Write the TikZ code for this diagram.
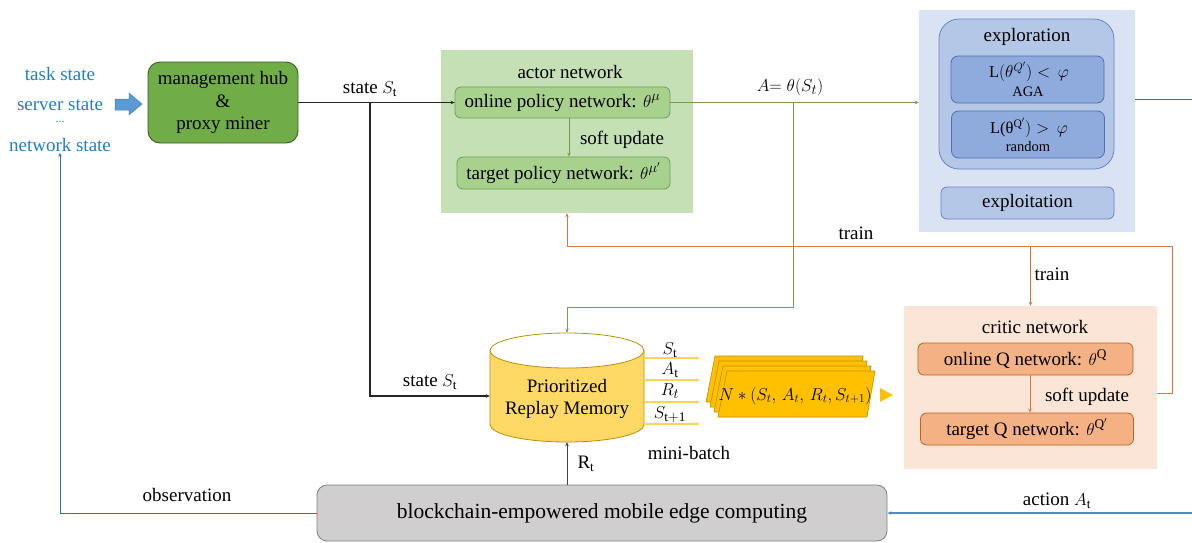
\documentclass[tikz,border=0pt]{standalone}
\usepackage{fontspec}
\setmainfont{Liberation Serif}
\usetikzlibrary{arrows.meta}

\definecolor{statetxt}{RGB}{31,126,205}
\definecolor{hubfill}{RGB}{112,173,71}
\definecolor{hubedge}{RGB}{60,90,40}
\definecolor{actorbg}{RGB}{197,224,180}
\definecolor{actorbox}{RGB}{169,209,142}
\definecolor{actoredge}{RGB}{110,158,79}
\definecolor{greenline}{RGB}{112,160,80}
\definecolor{explbg}{RGB}{218,227,243}
\definecolor{explbox}{RGB}{180,199,231}
\definecolor{expledge}{RGB}{100,135,195}
\definecolor{innerbox}{RGB}{143,170,220}
\definecolor{inneredge}{RGB}{80,112,180}
\definecolor{criticbg}{RGB}{251,229,214}
\definecolor{criticbox}{RGB}{244,177,131}
\definecolor{criticedge}{RGB}{190,100,40}
\definecolor{orangeline}{RGB}{214,120,60}
\definecolor{memfill}{RGB}{255,217,102}
\definecolor{memedge}{RGB}{191,144,0}
\definecolor{yline}{RGB}{255,210,90}
\definecolor{batchfill}{RGB}{255,192,0}
\definecolor{chainfill}{RGB}{208,206,206}
\definecolor{chainedge}{RGB}{128,128,128}
\definecolor{blueline}{RGB}{46,117,182}
\definecolor{arrowblue}{RGB}{91,155,213}

\tikzset{
  txt/.style={font=\rmfamily\fontsize{19}{23}\selectfont, inner sep=1pt},
  smalltxt/.style={font=\rmfamily\fontsize{14.5}{17}\selectfont, inner sep=1pt},
  eqtxt/.style={font=\rmfamily\fontsize{16.5}{20}\selectfont, inner sep=1pt},
  statelbl/.style={txt, text=statetxt},
  netbox/.style={rounded corners=6pt, line width=0.8pt, txt},
  tip/.style={-{Stealth[length=4pt,width=3.5pt]}},
}

\begin{document}
\begin{tikzpicture}[x=1pt, y=-1pt]
\useasboundingbox (0,0) rectangle (1192,542);

% ---------- environment state ----------
\node[statelbl] (task) at (60,74) {task state};
\node[statelbl] (server) at (60,105) {server state};
\node[statelbl, font=\fontsize{12}{13}\selectfont] (dots) at (60,122) {...};
\node[statelbl] (net) at (60,145) {network state};

% block arrow into the hub
\fill[arrowblue, draw=arrowblue!80!black, line width=0.5pt]
  (115,99) -- (129,99) -- (129,93) -- (142,104) -- (129,115) -- (129,110) -- (115,110) -- cycle;

% ---------- management hub ----------
\node[draw=hubedge, fill=hubfill, rounded corners=12pt, line width=0.9pt,
      minimum width=150pt, minimum height=81pt, align=center,
      font=\rmfamily\fontsize{19}{22.5}\selectfont] (hub) at (223,102.5)
      {management hub\\\&\\proxy miner};

% ---------- actor network ----------
\node[fill=actorbg, minimum width=252pt, minimum height=163pt, inner sep=0pt] (actorbg) at (567,131.5) {};
\node[txt] (actorlbl) at (570,72) {actor network};
\node[netbox, draw=actoredge, fill=actorbox, minimum width=215pt, minimum height=31pt] (online) at (562.5,102.5)
  {online policy network: $\theta^{\mu}$};
\node[netbox, draw=actoredge, fill=actorbox, minimum width=213pt, minimum height=32pt] (target) at (563.5,173)
  {target policy network: $\theta^{\mu'}$};
\draw[greenline, line width=1pt, tip] (online.south -| 569,0) -- (target.north -| 569,0);
\node[txt] (softa) at (622,140) {soft update};

% ---------- exploration / exploitation ----------
\node[fill=explbg, minimum width=216pt, minimum height=222pt, inner sep=0pt] (explbg) at (1027,121) {};
\node[draw=expledge, fill=explbox, rounded corners=20pt, line width=0.8pt,
      minimum width=175pt, minimum height=150pt, inner sep=0pt] (explore) at (1026.5,94) {};
\node[txt] (explorelbl) at (1027,37) {exploration};
\node[draw=inneredge, fill=innerbox, rounded corners=7pt, line width=0.8pt,
      minimum width=153pt, minimum height=47pt, inner sep=0pt] (aga) at (1027.5,79.5) {};
\node[eqtxt] (agaeq) at (1029,72) {L$(\theta^{Q'}) <\,\varphi$};
\node[smalltxt] (agatxt) at (1028,92) {AGA};
\node[draw=inneredge, fill=innerbox, rounded corners=7pt, line width=0.8pt,
      minimum width=153pt, minimum height=47pt, inner sep=0pt] (rnd) at (1028,134.5) {};
\node[eqtxt] (rndeq) at (1029,128) {L(θ$^{\mathrm{Q}'}) >\,\varphi$};
\node[smalltxt] (rndtxt) at (1028,147) {random};
\node[draw=expledge, fill=explbox, rounded corners=6pt, line width=0.8pt,
      minimum width=173pt, minimum height=32pt, txt] (exploit) at (1027.5,203) {exploitation};

% ---------- critic network ----------
\node[fill=criticbg, minimum width=253pt, minimum height=163pt, inner sep=0pt] (criticbg) at (1030.5,387.5) {};
\node[txt] (criticlbl) at (1035,327) {critic network};
\node[netbox, draw=criticedge, fill=criticbox, minimum width=215pt, minimum height=32pt] (onlineq) at (1025.5,359)
  {online Q network: $\theta^{\mathrm{Q}}$};
\node[netbox, draw=criticedge, fill=criticbox, minimum width=213pt, minimum height=32pt] (targetq) at (1027,429)
  {target Q network: $\theta^{\mathrm{Q}'}$};
\draw[orangeline, line width=1pt, tip] (onlineq.south -| 1030,0) -- (targetq.north -| 1030,0);
\node[txt] (softc) at (1087,397) {soft update};

% ---------- prioritized replay memory ----------
\fill[memfill] (490,350.5) -- (490,424.5) arc[start angle=180, end angle=0, x radius=77, y radius=17.5]
  -- (644,350.5) arc[start angle=0, end angle=180, x radius=77, y radius=17.5] -- cycle;
\draw[memedge, line width=0.8pt] (490,350.5) -- (490,424.5) arc[start angle=180, end angle=0, x radius=77, y radius=17.5]
  -- (644,350.5);
\draw[memedge, line width=0.8pt] (567,350.5) ellipse[x radius=77, y radius=17.5];
\node[minimum width=154pt, minimum height=109pt, inner sep=0pt] (mem) at (567,387.5) {};
\node[txt, align=center, font=\rmfamily\fontsize{19}{22}\selectfont] (memlbl) at (567,399) {Prioritized\\Replay Memory};

% sampled transition components
\foreach \yy/\lbl/\ly in {358/{$S_{\mathrm{t}}$}/350, 380/{$A_{\mathrm{t}}$}/370, 402/{$R_t$}/391, 424/{$S_{\mathrm{t+1}}$}/415} {
  \draw[yline, line width=1.2pt, tip] (mem.east |- 0,\yy) -- (700,\yy);
  \node[txt] at (670,\ly) {\lbl};
}
\node[txt] (minibatch) at (689,453) {mini-batch};

% stacked mini-batch cards
\foreach \k in {3,2,1,0} {
  \filldraw[fill=batchfill, draw=memedge, line width=0.6pt, shift={(-4*\k,-5*\k)}]
    (727,371) -- (875,371) -- (867,417) -- (718,417) -- cycle;
}
\node[txt, font=\rmfamily\fontsize{16.5}{19}\selectfont] (batch) at (795,396) {$N *(S_t,\,A_t,\,R_t,S_{t+1})$};
\fill[batchfill] (880,388) -- (893,395) -- (880,402) -- cycle;

% ---------- environment ----------
\node[draw=chainedge, fill=chainfill, rounded corners=10pt, line width=0.8pt,
      minimum width=570pt, minimum height=56pt, font=\rmfamily\fontsize{21.5}{25}\selectfont] (chain) at (602,513)
      {blockchain-empowered mobile edge computing};

% ---------- connectors ----------
\coordinate (j1) at (370,102.5);
\coordinate (j2) at (793,102.5);
\coordinate (tr) at (1172,246);
\coordinate (outR) at (1192,99);
\coordinate (actR) at (1192,513);

% state to actor and to memory
\draw[black!85, line width=1.1pt, tip] (hub.east) -- (online.west);
\node[txt] (st1) at (370,89) {state $S_{\mathrm{t}}$};
\draw[black!85, line width=1.1pt, tip] (j1) |- ([yshift=-8.5pt]mem.west);
\node[txt] (st2) at (430,382) {state $S_{\mathrm{t}}$};

% action output
\draw[greenline, line width=1pt, tip] (online.east) -- (online.east -| explbg.west);
\node[txt] (act) at (790,87) {$A{=}\ \theta(S_t)$};
\draw[greenline, line width=1pt, tip] (j2) -- ++(0,204.5) -| (mem.north);
\draw[blueline, line width=1pt] (outR -| explbg.east) -- (outR);

% training signals
\draw[orangeline, line width=1pt, tip] ([yshift=-5.5pt]criticbg.east) -| (tr) -| (actorbg.south);
\draw[orangeline, line width=1pt, tip] (criticbg.north |- tr) -- (criticbg.north);
\node[txt] (train1) at (856,233) {train};
\node[txt] (train2) at (1052,274) {train};

% environment loop
\draw[black!75, line width=1pt, tip] (mem.south |- chain.north) -- (mem.south);
\node[txt] (rt) at (586,464) {R$_{\mathrm{t}}$};
\draw[blueline, line width=1pt, tip] (chain.west) -| (net.south);
\node[txt] (obs) at (187,495) {observation};
\draw[arrowblue!90!black, line width=1.2pt, tip] (actR) -- (chain.east);
\node[txt] (actlbl) at (1057,501) {action $A_{\mathrm{t}}$};
\end{tikzpicture}
\end{document}
